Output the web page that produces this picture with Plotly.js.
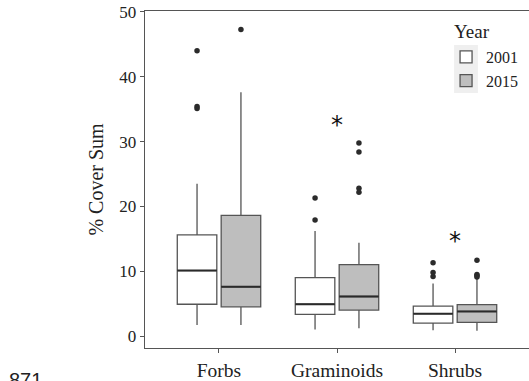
<!DOCTYPE html>
<html>
<head>
<meta charset="utf-8">
<script src="https://cdn.plot.ly/plotly-3.0.1.min.js"></script>
<style>html,body{margin:0;padding:0;background:#fff;}#chart{width:529px;height:381px;}</style>
</head>
<body>
<div id="chart"></div>
<script>
// ---- data ----
const categories = ['Forbs', 'Graminoids', 'Shrubs'];
const years = ['2001', '2015'];

const q1_2001 = [4.9, 3.35, 2.0];
const med_2001 = [10.1, 4.9, 3.45];
const q3_2001 = [15.6, 9.0, 4.6];
const lo_2001 = [1.7, 1.0, 0.9];
const hi_2001 = [23.5, 16.2, 8.1];

const q1_2015 = [4.5, 4.0, 2.1];
const med_2015 = [7.6, 6.1, 3.8];
const q3_2015 = [18.6, 11.0, 4.85];
const lo_2015 = [1.7, 1.2, 0.8];
const hi_2015 = [37.6, 14.4, 8.9];

const outCat_2001 = ['Forbs', 'Forbs', 'Forbs', 'Graminoids', 'Graminoids', 'Shrubs', 'Shrubs', 'Shrubs'];
const outVal_2001 = [44.0, 35.4, 35.1, 21.3, 17.9, 11.3, 9.8, 9.2];
const outCat_2015 = ['Forbs', 'Graminoids', 'Graminoids', 'Graminoids', 'Graminoids', 'Shrubs', 'Shrubs', 'Shrubs', 'Shrubs'];
const outVal_2015 = [47.3, 29.8, 28.4, 22.8, 22.2, 11.7, 9.5, 9.3, 9.1];

const sigCats = ['Graminoids', 'Shrubs'];
const sigY = [33.5, 15.6];

// ---- styling / layout helpers ----
const OFFSET = 0.186;
const BOXW = 0.335;
const fills = {'2001': '#ffffff', '2015': '#bebebe'};
const serif = 'Liberation Serif, Times New Roman, serif';
const catPos = c => categories.indexOf(c) + 1;

const stats = {
  '2001': {q1: q1_2001, med: med_2001, q3: q3_2001, lo: lo_2001, hi: hi_2001, oc: outCat_2001, ov: outVal_2001, off: -OFFSET},
  '2015': {q1: q1_2015, med: med_2015, q3: q3_2015, lo: lo_2015, hi: hi_2015, oc: outCat_2015, ov: outVal_2015, off: OFFSET}
};

const traces = [];
years.forEach(yr => {
  const s = stats[yr];
  const pos = categories.map(c => catPos(c) + s.off);
  traces.push({
    type: 'box', name: yr, x: pos,
    q1: s.q1, median: s.med, q3: s.q3, lowerfence: s.lo, upperfence: s.hi,
    width: BOXW, whiskerwidth: 0, boxpoints: false,
    fillcolor: fills[yr], line: {color: '#555555', width: 1.3},
    hoverinfo: 'skip'
  });
});
years.forEach(yr => {
  const s = stats[yr];
  // thicker median lines
  const mx = [], my = [];
  categories.forEach((c, i) => {
    const p = catPos(c) + s.off;
    mx.push(p - BOXW / 2, p + BOXW / 2, null);
    my.push(s.med[i], s.med[i], null);
  });
  traces.push({type: 'scatter', mode: 'lines', x: mx, y: my, showlegend: false,
    line: {color: '#2a2a2a', width: 2}, hoverinfo: 'skip'});
  traces.push({type: 'scatter', mode: 'markers', showlegend: false,
    x: s.oc.map(c => catPos(c) + s.off), y: s.ov,
    marker: {color: '#2b2b2b', size: 5.5}, hoverinfo: 'skip'});
});

const annotations = sigCats.map((c, i) => ({
  x: catPos(c), y: sigY[i], xref: 'x', yref: 'y', text: '*', showarrow: false,
  font: {family: 'DejaVu Sans, sans-serif', size: 24, color: '#111'}, yshift: -6
}));
annotations.push({
  xref: 'paper', yref: 'paper', x: 0.799, y: 0.94, xanchor: 'left', yanchor: 'middle',
  text: 'Year', showarrow: false, font: {family: serif, size: 19, color: '#222'}
});
annotations.push({
  xref: 'paper', yref: 'paper', x: -0.359, y: -0.056, xanchor: 'left', yanchor: 'top',
  text: '871', showarrow: false, font: {family: 'Liberation Sans, Arial, sans-serif', size: 20, color: '#222'}
});

const layout = {
  width: 529, height: 381,
  margin: {l: 145, r: 0, t: 11, b: 33},
  paper_bgcolor: '#fff', plot_bgcolor: '#fff',
  showlegend: true,
  boxmode: 'overlay',
  xaxis: {
    range: [0.373, 3.627], tickvals: categories.map(catPos), ticktext: categories,
    showgrid: false, zeroline: false, showline: true, mirror: true,
    linecolor: '#555', linewidth: 1.3, ticks: 'outside', ticklen: 4, tickcolor: '#555',
    tickfont: {family: serif, size: 19.5, color: '#222'}
  },
  yaxis: {
    range: [-1.85, 50.15], tickvals: [0, 10, 20, 30, 40, 50],
    showgrid: false, zeroline: false, showline: true, mirror: false,
    linecolor: '#555', linewidth: 1.3, ticks: 'outside', ticklen: 4, tickcolor: '#555',
    tickfont: {family: serif, size: 17, color: '#222'},
    title: {text: '% Cover Sum', font: {family: serif, size: 20, color: '#222'}, standoff: 10}
  },
  legend: {
    x: 0.784, y: 0.914, xanchor: 'left', yanchor: 'top',
    bgcolor: 'rgba(0,0,0,0)', borderwidth: 0,
    font: {family: serif, size: 16, color: '#222'}
  },
  shapes: [{
    type: 'rect', xref: 'paper', yref: 'paper', layer: 'below',
    x0: 0.805, x1: 0.867, y0: 0.757, y1: 0.899,
    fillcolor: '#efefef', line: {width: 0}
  }],
  annotations: annotations
};

Plotly.newPlot('chart', traces, layout, {staticPlot: true, displayModeBar: false});
</script>
</body>
</html>
